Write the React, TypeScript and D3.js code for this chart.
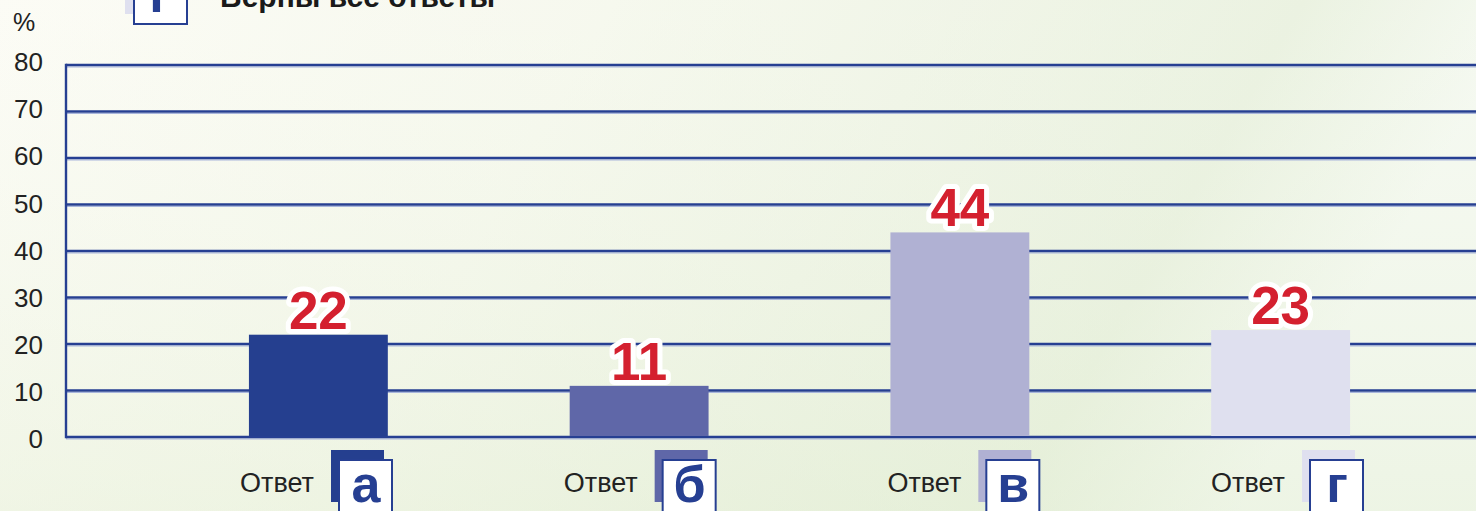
import { useRef, useEffect } from 'react'
import * as d3 from 'd3'

const categories = ['а', 'б', 'в', 'г']
const values = [22, 11, 44, 23]
const barColors = ['#253f8f', '#5f67a8', '#b0b1d3', '#dfe0ef']
const yTicks = [0, 10, 20, 30, 40, 50, 60, 70, 80]
const axisLabel = 'Ответ'
const legendLetter = 'г'
const legendText = 'Верны все ответы'

const W = 1476
const H = 511
const NAVY = '#263f92'
const FONT = '"Liberation Sans", Arial, sans-serif'

export default function App() {
  const svgRef = useRef<SVGSVGElement>(null)

  useEffect(() => {
    if (!svgRef.current) return
    const svg = d3.select(svgRef.current)
    svg.selectAll('*').remove()

    const left = 66
    const yScale = d3.scaleLinear().domain([0, 80]).range([437, 65])
    const xScale = d3.scaleBand<string>()
      .domain(categories)
      .range([158, 1441])
      .paddingInner(0.567)
      .paddingOuter(0.2835)
    // category label boxes sit on their own spacing under the bars
    const labelScale = d3.scalePoint<string>().domain(categories).range([339, 1310])

    // Background
    const defs = svg.append('defs')
    const bg = defs.append('linearGradient').attr('id', 'bg')
      .attr('x1', '0%').attr('y1', '0%').attr('x2', '100%').attr('y2', '20%')
    bg.append('stop').attr('offset', '0%').attr('stop-color', '#fbfbf3')
    bg.append('stop').attr('offset', '40%').attr('stop-color', '#f4f7ea')
    bg.append('stop').attr('offset', '85%').attr('stop-color', '#e6efda')
    bg.append('stop').attr('offset', '100%').attr('stop-color', '#f3f8ee')
    const bg2 = defs.append('linearGradient').attr('id', 'bg2')
      .attr('x1', '0%').attr('y1', '0%').attr('x2', '0%').attr('y2', '100%')
    bg2.append('stop').attr('offset', '0%').attr('stop-color', '#ffffff').attr('stop-opacity', 0.2)
    bg2.append('stop').attr('offset', '100%').attr('stop-color', '#e4efd6').attr('stop-opacity', 0.4)
    svg.append('rect').attr('width', W).attr('height', H).attr('fill', 'url(#bg)')
    svg.append('rect').attr('width', W).attr('height', H).attr('fill', 'url(#bg2)')

    // Legend (cut at top)
    svg.append('rect').attr('x', 125).attr('y', -30).attr('width', 53).attr('height', 44).attr('fill', '#dfe0ef')
    svg.append('rect').attr('x', 134).attr('y', -25).attr('width', 53).attr('height', 49)
      .attr('fill', '#ffffff').attr('stroke', NAVY).attr('stroke-width', 2)
    svg.append('text').attr('x', 160).attr('y', 12).attr('text-anchor', 'middle')
      .attr('font-family', FONT).attr('font-weight', 'bold').attr('font-size', 52).attr('fill', NAVY)
      .text(legendLetter)
    svg.append('text').attr('x', 220).attr('y', 7)
      .attr('font-family', FONT).attr('font-weight', 'bold').attr('font-size', 30).attr('fill', '#1a1a1a')
      .text(legendText)

    // Grid lines
    for (const t of yTicks) {
      svg.append('line')
        .attr('x1', left).attr('x2', W)
        .attr('y1', yScale(t) + 2).attr('y2', yScale(t) + 2)
        .attr('stroke', '#a9b6dc').attr('stroke-width', 1)
      svg.append('line')
        .attr('x1', left).attr('x2', W)
        .attr('y1', yScale(t)).attr('y2', yScale(t))
        .attr('stroke', NAVY).attr('stroke-width', 2.4)
    }
    svg.append('line')
      .attr('x1', left).attr('x2', left)
      .attr('y1', yScale(80) - 1.2).attr('y2', yScale(0) + 1.2)
      .attr('stroke', NAVY).attr('stroke-width', 2.4)

    // Y tick labels
    svg.append('g')
      .selectAll('text')
      .data(yTicks)
      .join('text')
      .attr('x', 43)
      .attr('y', (d) => yScale(d) + 11 - d * 0.06)
      .attr('text-anchor', 'end')
      .attr('font-family', FONT).attr('font-size', 26).attr('fill', '#222')
      .text((d) => String(d))
    svg.append('text').attr('x', 13).attr('y', 31)
      .attr('font-family', FONT).attr('font-size', 25).attr('fill', '#222').text('%')

    // Bars
    svg.append('g')
      .selectAll('rect')
      .data(categories)
      .join('rect')
      .attr('x', (d) => xScale(d)!)
      .attr('y', (_, i) => yScale(values[i]))
      .attr('width', xScale.bandwidth())
      .attr('height', (_, i) => yScale(0) - yScale(values[i]) - 1)
      .attr('fill', (_, i) => barColors[i])

    // Value labels
    svg.append('g')
      .selectAll('text')
      .data(categories)
      .join('text')
      .attr('x', (d) => xScale(d)! + xScale.bandwidth() / 2)
      .attr('y', (_, i) => yScale(values[i]) - 6)
      .attr('text-anchor', 'middle')
      .attr('font-family', FONT).attr('font-weight', 'bold').attr('font-size', 53)
      .attr('fill', '#d4202f')
      .attr('stroke', '#ffffff').attr('stroke-width', 10).attr('stroke-linejoin', 'round')
      .attr('paint-order', 'stroke')
      .text((_, i) => String(values[i]))

    // Category labels
    const cat = svg.append('g')
      .selectAll('g')
      .data(categories)
      .join('g')
      .attr('transform', (d) => `translate(${labelScale(d)},0)`)
    cat.append('text').attr('x', -25).attr('y', 492).attr('text-anchor', 'end')
      .attr('font-family', FONT).attr('font-size', 27).attr('fill', '#222').text(axisLabel)
    cat.append('rect').attr('x', -8).attr('y', 450).attr('width', 53).attr('height', 52)
      .attr('fill', (_, i) => barColors[i])
    cat.append('rect').attr('x', 0).attr('y', 460).attr('width', 53).attr('height', 60)
      .attr('fill', '#ffffff').attr('stroke', NAVY).attr('stroke-width', 2)
    cat.append('text').attr('x', 27).attr('y', 502).attr('text-anchor', 'middle')
      .attr('font-family', FONT).attr('font-weight', 'bold').attr('font-size', 52).attr('fill', NAVY)
      .text((d) => d)
  }, [])

  return (
    <div style={{ position: 'absolute', left: 0, top: 0 }}>
      <svg ref={svgRef} width={W} height={H} style={{ display: 'block' }} />
    </div>
  )
}
